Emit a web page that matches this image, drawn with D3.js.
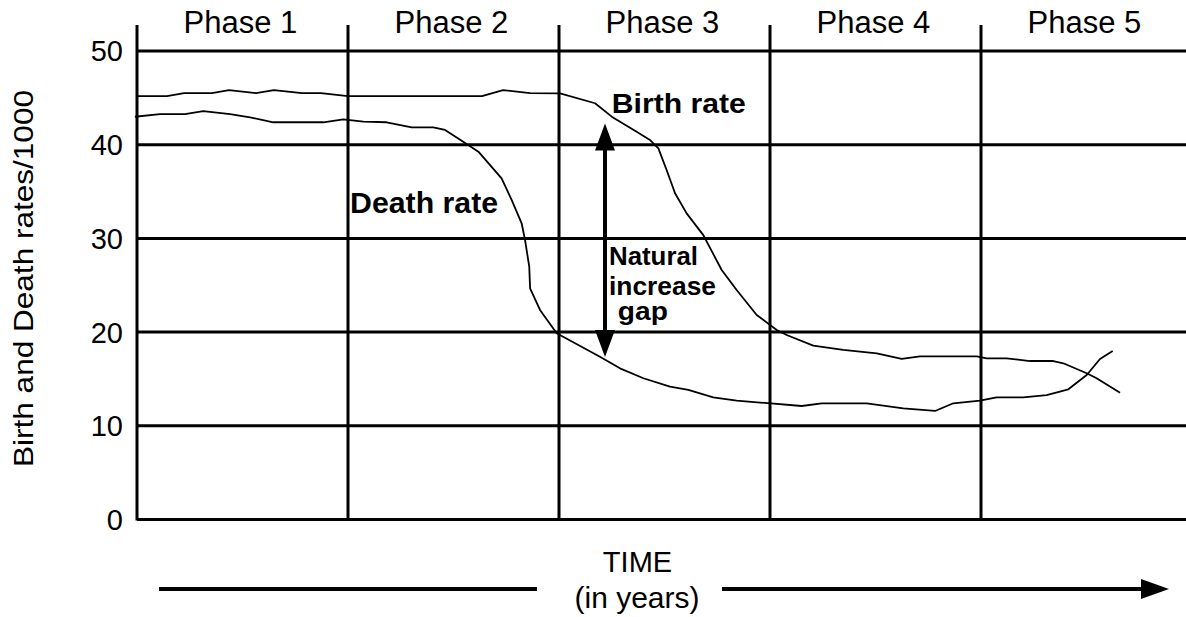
<!DOCTYPE html>
<html>
<head>
<meta charset="utf-8">
<script src="https://cdn.jsdelivr.net/npm/d3@7"></script>
<style>
  html, body { margin: 0; padding: 0; background: #fff; }
  svg { display: block; }
</style>
</head>
<body>
<svg id="chart" width="1186" height="617"></svg>
<script>
// ---------------- DATA ----------------
const phaseLabels = ["Phase 1", "Phase 2", "Phase 3", "Phase 4", "Phase 5"];
const yTickValues = [0, 10, 20, 30, 40, 50];

// time measured in phase units (0 = start of Phase 1, 1 = start of Phase 2, ...)
const birthTime = [0, 0.142, 0.223, 0.355, 0.436, 0.564, 0.649, 0.782, 0.872, 1.0, 1.635, 1.735, 1.863, 2.005,
  2.171, 2.25, 2.368, 2.431, 2.471, 2.51, 2.55, 2.605, 2.684, 2.771, 2.842, 2.937, 3.032, 3.079, 3.205, 3.347,
  3.506, 3.624, 3.711, 3.98, 4.027, 4.122, 4.232, 4.343, 4.39, 4.501, 4.548, 4.659];
const birthRate = [45.14, 45.14, 45.46, 45.46, 45.78, 45.46, 45.78, 45.46, 45.46, 45.14, 45.14, 45.78, 45.46, 45.43,
  44.37, 42.94, 41.33, 40.45, 39.56, 37.25, 34.76, 32.62, 30.3, 26.57, 24.44, 21.77, 20.17, 19.64, 18.5, 18.04,
  17.68, 17.08, 17.36, 17.36, 17.15, 17.15, 16.86, 16.86, 16.62, 15.55, 15.02, 13.48];

const deathTime = [-0.01, 0.109, 0.227, 0.314, 0.441, 0.536, 0.646, 0.883, 0.978, 1.009, 1.073, 1.183, 1.302, 1.404,
  1.46, 1.546, 1.618, 1.728, 1.776, 1.823, 1.839, 1.859, 1.863, 1.91, 1.989, 2.194, 2.289, 2.4, 2.526, 2.613,
  2.731, 2.842, 2.953, 3.15, 3.245, 3.458, 3.632, 3.782, 3.869, 3.995, 4.074, 4.2, 4.311, 4.414, 4.501, 4.564, 4.624];
const deathRate = [42.93, 43.22, 43.22, 43.54, 43.22, 42.87, 42.34, 42.34, 42.66, 42.58, 42.4, 42.34, 41.8, 41.8,
  41.52, 40.27, 39.2, 36.36, 34.04, 31.56, 29.78, 26.93, 24.62, 22.31, 19.82, 17.32, 16.08, 15.02, 14.12, 13.77,
  12.99, 12.63, 12.43, 12.06, 12.35, 12.35, 11.81, 11.53, 12.35, 12.63, 12.99, 12.99, 13.23, 13.84, 15.37, 17.08, 17.93];

// natural increase gap arrow (time, from value, to value)
const gapArrowTime = 2.218;
const gapArrowTop = 42.2;
const gapArrowBottom = 17.3;

// annotations: text, time, value (baseline), size, bold
const annotations = [
  { text: "Birth rate", t: 2.25, v: 43.3, size: 28, len: 134 },
  { text: "Death rate", t: 1.01, v: 32.7, size: 29, len: 148 },
  { text: "Natural", t: 2.237, v: 27.1, size: 25, len: 89 },
  { text: "increase", t: 2.237, v: 23.9, size: 25, len: 107 },
  { text: "gap", t: 2.279, v: 21.2, size: 25, len: 50 }
];

const yAxisTitle = "Birth and Death rates/1000";
const xAxisTitle = ["TIME", "(in years)"];

// ---------------- CHART ----------------
const W = 1186, H = 617;
const FONT = "'Liberation Sans', Arial, Helvetica, sans-serif";
const svg = d3.select("#chart");

const x = d3.scaleLinear().domain([0, 5]).range([137, 1192]);
const y = d3.scaleLinear().domain([0, 50]).range([519, 50.5]);

// horizontal grid + tick labels via axis
const yAxis = d3.axisLeft(y)
  .tickValues(yTickValues)
  .tickFormat(d3.format("d"))
  .tickSize(-(W - x(0)))
  .tickPadding(14);

const gy = svg.append("g")
  .attr("transform", `translate(${x(0)},0)`)
  .call(yAxis);
gy.select(".domain").remove();
gy.selectAll(".tick line").attr("stroke", "#000").attr("stroke-width", 3);
gy.selectAll(".tick text")
  .attr("fill", "#000")
  .attr("font-family", FONT)
  .attr("font-size", 29)
  .attr("dy", "0.36em");

// phase dividers (including left axis)
svg.append("g").selectAll("line")
  .data(d3.range(0, 5))
  .join("line")
  .attr("x1", d => x(d)).attr("x2", d => x(d))
  .attr("y1", 25).attr("y2", y(0) + 1.5)
  .attr("stroke", "#000").attr("stroke-width", 3);

// phase labels
svg.append("g").selectAll("text")
  .data(phaseLabels)
  .join("text")
  .attr("x", (d, i) => (x(i) + x(i + 1)) / 2 - 2)
  .attr("y", 33)
  .attr("text-anchor", "middle")
  .attr("font-family", FONT)
  .attr("font-size", 31)
  .attr("fill", "#000")
  .text(d => d);

// curves
const line = d3.line().x(d => x(d[0])).y(d => y(d[1]));
const birth = birthTime.map((t, i) => [t, birthRate[i]]);
const death = deathTime.map((t, i) => [t, deathRate[i]]);
svg.append("path").attr("d", line(birth))
  .attr("fill", "none").attr("stroke", "#000").attr("stroke-width", 1.8).attr("stroke-linejoin", "round");
svg.append("path").attr("d", line(death))
  .attr("fill", "none").attr("stroke", "#000").attr("stroke-width", 1.8).attr("stroke-linejoin", "round");

// gap arrow
const ax = x(gapArrowTime), yTop = y(gapArrowTop), yBot = y(gapArrowBottom);
const headL = 27, headW = 10;
svg.append("line")
  .attr("x1", ax).attr("x2", ax)
  .attr("y1", yTop + headL - 2).attr("y2", yBot - headL + 2)
  .attr("stroke", "#000").attr("stroke-width", 4);
svg.append("path")
  .attr("d", `M${ax},${yTop} L${ax - headW},${yTop + headL} L${ax + headW},${yTop + headL} Z`)
  .attr("fill", "#000");
svg.append("path")
  .attr("d", `M${ax},${yBot} L${ax - headW},${yBot - headL} L${ax + headW},${yBot - headL} Z`)
  .attr("fill", "#000");

// annotations
svg.append("g").selectAll("text")
  .data(annotations)
  .join("text")
  .attr("x", d => x(d.t))
  .attr("y", d => y(d.v))
  .attr("font-family", FONT)
  .attr("font-weight", "bold")
  .attr("font-size", d => d.size)
  .attr("textLength", d => d.len)
  .attr("lengthAdjust", "spacingAndGlyphs")
  .attr("fill", "#000")
  .text(d => d.text);

// y-axis title
svg.append("text")
  .attr("transform", "translate(33,278.5) rotate(-90)")
  .attr("text-anchor", "middle")
  .attr("font-family", FONT)
  .attr("font-size", 28)
  .attr("textLength", 377)
  .attr("lengthAdjust", "spacingAndGlyphs")
  .attr("fill", "#000")
  .text(yAxisTitle);

// x-axis title with time arrow
svg.append("text")
  .attr("x", 637.5).attr("y", 571.5)
  .attr("text-anchor", "middle")
  .attr("font-family", FONT).attr("font-size", 29)
  .attr("fill", "#000")
  .text(xAxisTitle[0]);
svg.append("text")
  .attr("x", 637).attr("y", 608)
  .attr("text-anchor", "middle")
  .attr("font-family", FONT).attr("font-size", 30)
  .attr("fill", "#000")
  .text(xAxisTitle[1]);

svg.append("line").attr("x1", 159).attr("x2", 537).attr("y1", 589).attr("y2", 589)
  .attr("stroke", "#000").attr("stroke-width", 4);
svg.append("line").attr("x1", 722).attr("x2", 1143).attr("y1", 589).attr("y2", 589)
  .attr("stroke", "#000").attr("stroke-width", 4);
svg.append("path").attr("d", "M1169,589 L1141,579 L1141,599 Z").attr("fill", "#000");
</script>
</body>
</html>
